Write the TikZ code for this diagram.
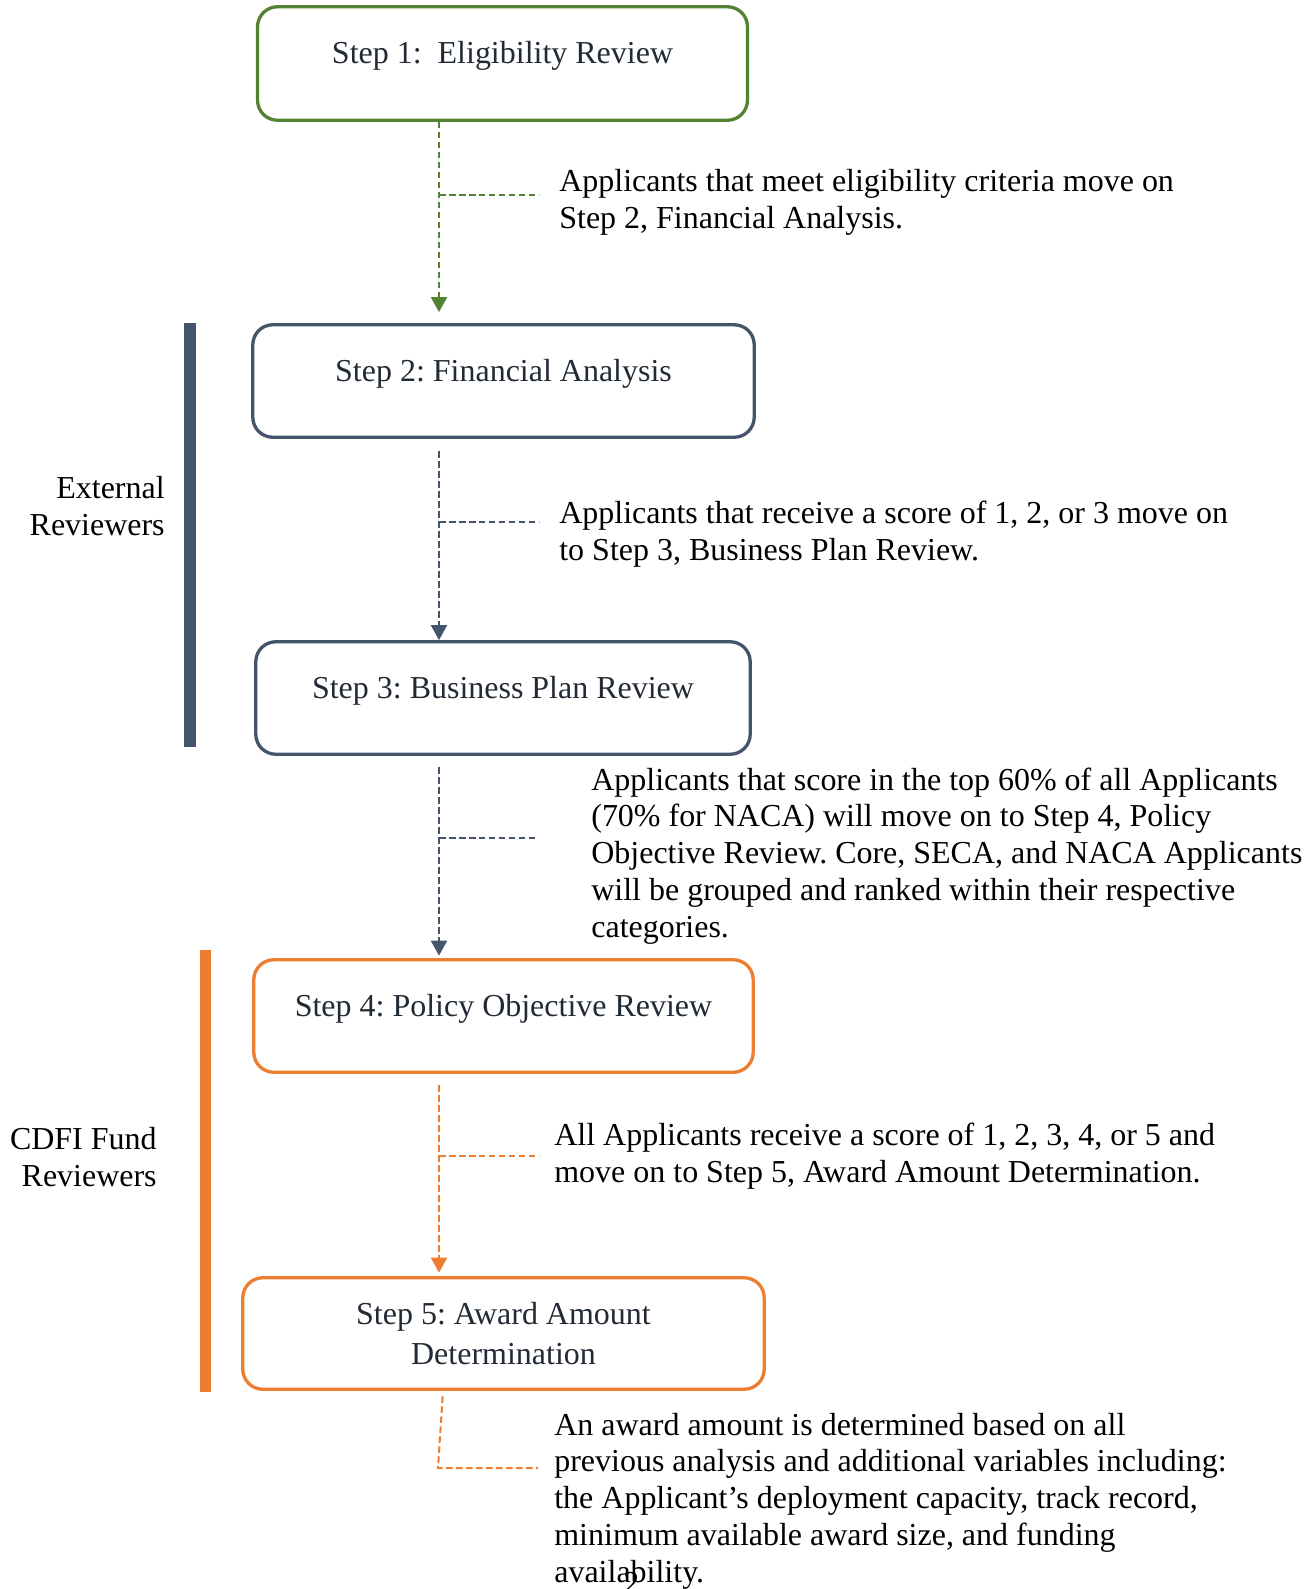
\documentclass[tikz,border=0pt]{standalone}
\usepackage{fontspec}
\setmainfont{Liberation Serif}
\usetikzlibrary{arrows.meta}

\newcommand{\bodyfont}{\fontsize{18.2pt}{20.9pt}\selectfont\frenchspacing}
\newcommand{\boxfont}{\fontsize{18.2pt}{22.6pt}\selectfont\frenchspacing}

\begin{document}
\begin{tikzpicture}[x=0.02cm, y=-0.02cm,
    boxbase/.style={draw=#1, rounded corners=0.4cm, line width=0.066cm,
        text=colT, font=\boxfont, align=center},
    stepbox/.style={boxbase=#1, text height=0.5cm, text depth=0.5cm},
    note/.style={inner sep=0pt, align=left, font=\bodyfont},
    side/.style={inner sep=0pt, align=right, font=\bodyfont},
    flow/.style={dash pattern=on 0.13cm off 0.07cm, line width=0.04cm},
    tip/.style={-{Triangle[length=0.3cm, width=0.32cm]}}]

    \definecolor{colG}{HTML}{548235}
    \definecolor{colS}{HTML}{44546A}
    \definecolor{colO}{HTML}{ED7D31}
    \definecolor{colT}{HTML}{222A35}

    \useasboundingbox (0,0) rectangle (1313,1589);

    % Reviewer bars
    \fill[colS] (184,323) rectangle (196,747);
    \fill[colO] (200,950) rectangle (211,1392);
    \node[side, anchor=base east] (ext) at (165,535) {External\\Reviewers};
    \node[side, anchor=base east] (cdfi) at (157,1186) {CDFI Fund\\Reviewers};

    % Steps
    \node[stepbox=colG, minimum width=9.8cm, minimum height=2.27cm] (s1) at (502.5,63.5) {Step 1:\ \ Eligibility Review};
    \node[stepbox=colS, minimum width=10.03cm, minimum height=2.25cm] (s2) at (503.5,381) {Step 2: Financial Analysis};
    \node[stepbox=colS, minimum width=9.89cm, minimum height=2.25cm] (s3) at (503,698) {Step 3: Business Plan Review};
    \node[stepbox=colO, minimum width=9.99cm, minimum height=2.25cm] (s4) at (503.5,1016) {Step 4: Policy Objective Review};
    \node[boxbase=colO, minimum width=10.43cm, minimum height=2.23cm] (s5) at (503.5,1333.5) {Step 5: Award Amount\\Determination};

    % Notes (anchored on the last line)
    \node[note, anchor=base west] (n1) at (559,228) {Applicants that meet eligibility criteria move on\\Step 2, Financial Analysis.};
    \node[note, anchor=base west] (n2) at (559,560) {Applicants that receive a score of 1, 2, or 3 move on\\to Step 3, Business Plan Review.};
    \node[note, anchor=base west] (n3) at (591,937) {Applicants that score in the top 60\% of all Applicants\\(70\% for NACA) will move on to Step 4, Policy\\Objective Review. Core, SECA, and NACA Applicants\\will be grouped and ranked within their respective\\categories.};
    \node[note, anchor=base west] (n4) at (554,1182) {All Applicants receive a score of 1, 2, 3, 4, or 5 and\\move on to Step 5, Award Amount Determination.};
    \node[note, anchor=base west] (n5) at (554,1582) {An award amount is determined based on all\\previous analysis and additional variables including:\\the Applicant's deployment capacity, track record,\\minimum available award size, and funding\\availability.};
    \node[note, anchor=base west] (pg) at (623,1593) {2};

    % Connectors
    \coordinate (ax) at (439,0);
    \coordinate (e1) at (539,195);
    \coordinate (e2) at (539,522);
    \coordinate (e3) at (538,838);
    \coordinate (e4) at (539,1156);
    \coordinate (c5) at (438,1468);
    \coordinate (e5) at (538,1468);

    \draw[flow, tip, colG, shorten >=0.22cm] (s1.south -| ax) -- (s2.north -| ax);
    \draw[flow, tip, colS, shorten <=0.25cm] (s2.south -| ax) -- (s3.north -| ax);
    \draw[flow, tip, colS, shorten <=0.23cm, shorten >=0.05cm] (s3.south -| ax) -- (s4.north -| ax);
    \draw[flow, tip, colO, shorten <=0.23cm, shorten >=0.07cm] (s4.south -| ax) -- (s5.north -| ax);
    \draw[flow, colO, shorten <=0.11cm] ([xshift=0.1cm]s5.south -| c5) -- (c5) -- (e5);

    \foreach \e/\col in {e1/colG, e2/colS, e3/colS, e4/colO} {
        \draw[flow, \col] (\e -| ax) -- (\e);
    }
\end{tikzpicture}
\end{document}
